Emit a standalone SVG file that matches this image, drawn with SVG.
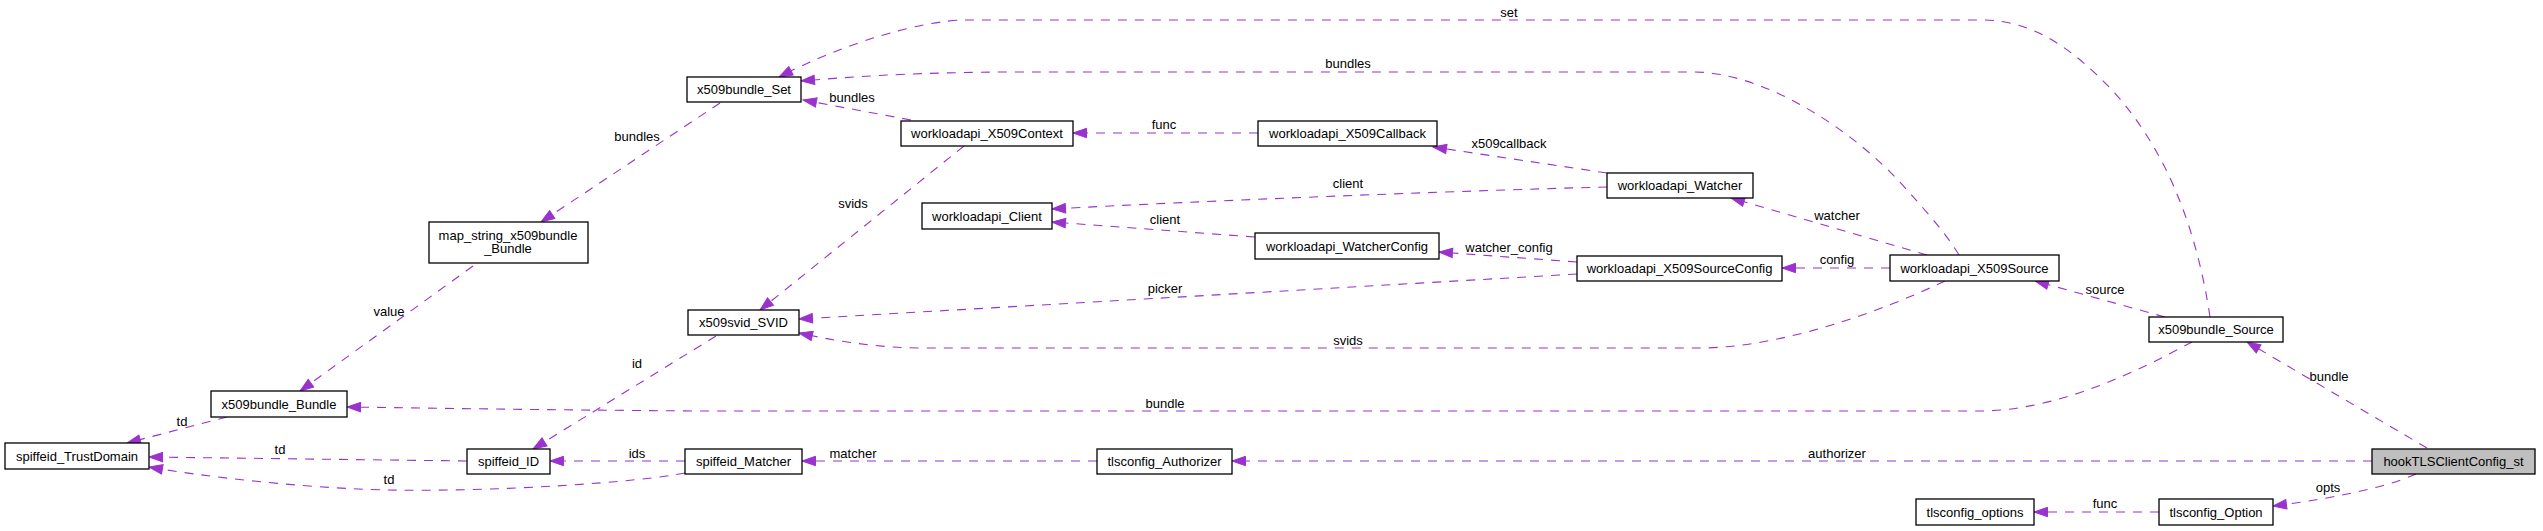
<svg xmlns="http://www.w3.org/2000/svg" width="2543" height="531" viewBox="0 0 2543 531">
<defs>
<marker id="ah" markerWidth="16" markerHeight="12" refX="13.5" refY="4.7" orient="auto" markerUnits="userSpaceOnUse" overflow="visible">
<path d="M0,0 L13.5,4.7 L0,9.4 z" fill="#9a32cd" stroke="#9a32cd" stroke-width="1"/>
</marker>
<style>
.n rect{fill:#ffffff;stroke:#000000;stroke-width:1.3}
.cur rect{fill:#bfbfbf}
text{font-family:"Liberation Sans",Arial,Helvetica,sans-serif;font-size:13px;fill:#000000;text-anchor:middle}
.e path{fill:none;stroke:#9a32cd;stroke-width:1.1;stroke-dasharray:9,8;marker-end:url(#ah)}
</style>
</defs>
<rect width="2543" height="531" fill="#ffffff"/>

<g id="edges" class="e">
<path d="M720,103 L541,222"/><text x="637" y="140.5">bundles</text>
<path d="M473,266 L300,391"/><text x="389" y="315.5">value</text>
<path d="M227,417 L127,443"/><text x="182" y="425.5">td</text>
<path d="M467,461 L149,457"/><text x="280" y="453.5">td</text>
<path d="M685,473 C640,482 500,492 388,490 C300,488 200,476 149,467"/><text x="389" y="483.5">td</text>
<path d="M685,461 L550,461"/><text x="637" y="457.5">ids</text>
<path d="M716,336 L533,449"/><text x="637" y="367.5">id</text>
<path d="M911,120 L803,100"/><text x="852" y="101.5">bundles</text>
<path d="M964,146 L760,310"/><text x="853" y="207.5">svids</text>
<path d="M1258,133 L1073,133"/><text x="1164" y="128.5">func</text>
<path d="M1607,187 C1450,191 1200,201 1052,209"/><text x="1348" y="187.5">client</text>
<path d="M1255,237 L1052,222"/><text x="1165" y="223.5">client</text>
<path d="M1607,173 L1433,147"/><text x="1509" y="147.5">x509callback</text>
<path d="M1927,255 L1731,198"/><text x="1837" y="219.5">watcher</text>
<path d="M1577,262 L1439,252"/><text x="1509" y="251.5">watcher_config</text>
<path d="M1890,268 L1782,268"/><text x="1837" y="263.5">config</text>
<path d="M1577,274 L799,319"/><text x="1165" y="292.5">picker</text>
<path d="M1945,281 C1880,312 1780,348 1699,348 L926,348 C880,348 840,342 799,333"/><text x="1348" y="344.5">svids</text>
<path d="M1959,255 C1945,232 1925,210 1907,190 C1850,125 1760,72 1694,72 L1000,72 C900,73 850,77 801,81"/><text x="1348" y="67.5">bundles</text>
<path d="M2165,317 L2035,281"/><text x="2105" y="293.5">source</text>
<path d="M2210,317 C2197,230 2167,150 2112,90 C2072,48 2032,20 1982,20 L967,20 C920,20 840,45 779,77"/><text x="1509" y="16.5">set</text>
<path d="M2192,342 C2140,370 2060,410 1982,411 L700,411 C550,410 420,408 347,407"/><text x="1165" y="407.5">bundle</text>
<path d="M2427,448 L2247,342"/><text x="2329" y="380.5">bundle</text>
<path d="M2372,461 L1232,461"/><text x="1837" y="457.5">authorizer</text>
<path d="M1097,461 L802,461"/><text x="853" y="457.5">matcher</text>
<path d="M2416,474 C2380,490 2320,500 2273,506"/><text x="2328" y="491.5">opts</text>
<path d="M2159,512 L2034,512"/><text x="2105" y="507.5">func</text>
</g>

<g id="x509bundle_Set" class="n"><rect x="687" y="77" width="114" height="25"/><text x="744" y="94">x509bundle_Set</text></g>
<g id="map_string_x509bundle_Bundle" class="n"><rect x="429" y="222" width="159" height="41"/><text x="508" y="239.5">map_string_x509bundle</text><text x="508" y="252.5">_Bundle</text></g>
<g id="x509bundle_Bundle" class="n"><rect x="211" y="391" width="136" height="26"/><text x="279" y="408.5">x509bundle_Bundle</text></g>
<g id="spiffeid_TrustDomain" class="n"><rect x="5" y="443" width="144" height="26"/><text x="77" y="460.5">spiffeid_TrustDomain</text></g>
<g id="x509svid_SVID" class="n"><rect x="688" y="310" width="111" height="25"/><text x="743.5" y="327">x509svid_SVID</text></g>
<g id="spiffeid_ID" class="n"><rect x="467" y="449" width="83" height="25"/><text x="508.5" y="466">spiffeid_ID</text></g>
<g id="spiffeid_Matcher" class="n"><rect x="685" y="449" width="117" height="25"/><text x="743.5" y="466">spiffeid_Matcher</text></g>
<g id="workloadapi_X509Context" class="n"><rect x="901" y="121" width="172" height="25"/><text x="987" y="138">workloadapi_X509Context</text></g>
<g id="workloadapi_Client" class="n"><rect x="922" y="203" width="130" height="26"/><text x="987" y="220.5">workloadapi_Client</text></g>
<g id="workloadapi_X509Callback" class="n"><rect x="1258" y="121" width="179" height="25"/><text x="1347.5" y="138">workloadapi_X509Callback</text></g>
<g id="workloadapi_WatcherConfig" class="n"><rect x="1255" y="233" width="184" height="26"/><text x="1347" y="250.5">workloadapi_WatcherConfig</text></g>
<g id="workloadapi_Watcher" class="n"><rect x="1607" y="173" width="146" height="25"/><text x="1680" y="190">workloadapi_Watcher</text></g>
<g id="workloadapi_X509SourceConfig" class="n"><rect x="1577" y="256" width="205" height="25"/><text x="1679.5" y="273">workloadapi_X509SourceConfig</text></g>
<g id="workloadapi_X509Source" class="n"><rect x="1890" y="255" width="169" height="26"/><text x="1974.5" y="272.5">workloadapi_X509Source</text></g>
<g id="x509bundle_Source" class="n"><rect x="2149" y="317" width="134" height="25"/><text x="2216" y="334">x509bundle_Source</text></g>
<g id="tlsconfig_Authorizer" class="n"><rect x="1097" y="449" width="135" height="25"/><text x="1164.5" y="466">tlsconfig_Authorizer</text></g>
<g id="hookTLSClientConfig_st" class="n cur"><rect x="2372" y="449" width="163" height="25"/><text x="2453.5" y="466">hookTLSClientConfig_st</text></g>
<g id="tlsconfig_options" class="n"><rect x="1916" y="499" width="118" height="26"/><text x="1975" y="516.5">tlsconfig_options</text></g>
<g id="tlsconfig_Option" class="n"><rect x="2159" y="499" width="114" height="26"/><text x="2216" y="516.5">tlsconfig_Option</text></g>
</svg>
